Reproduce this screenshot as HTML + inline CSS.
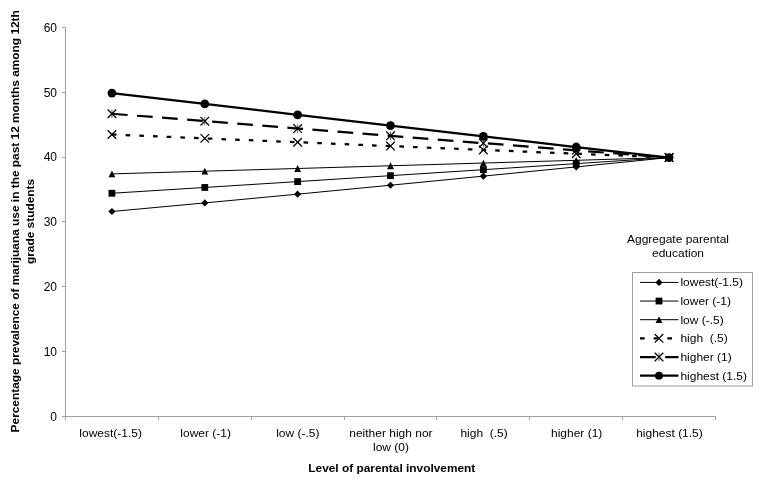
<!DOCTYPE html><html><head><meta charset="utf-8"><style>html,body{margin:0;padding:0;background:#fff;}svg{display:block;will-change:transform;}text{font-family:"Liberation Sans", sans-serif;}</style></head><body>
<svg width="764" height="486" viewBox="0 0 764 486">
<rect width="764" height="486" fill="#fff"/>
<path d="M65.5 27.5V416.5H715.5M62.0 416.50H65.5M62.0 351.50H65.5M62.0 286.50H65.5M62.0 221.50H65.5M62.0 157.50H65.5M62.0 92.50H65.5M62.0 27.50H65.5M65.50 416.5V420.0M158.50 416.5V420.0M251.50 416.5V420.0M344.50 416.5V420.0M436.50 416.5V420.0M529.50 416.5V420.0M622.50 416.5V420.0M715.50 416.5V420.0" stroke="#a0a0a0" stroke-width="1" fill="none"/>
<text x="57" y="420.80" font-size="12" text-anchor="end" fill="#000">0</text>
<text x="57" y="355.97" font-size="12" text-anchor="end" fill="#000">10</text>
<text x="57" y="291.13" font-size="12" text-anchor="end" fill="#000">20</text>
<text x="57" y="226.30" font-size="12" text-anchor="end" fill="#000">30</text>
<text x="57" y="161.47" font-size="12" text-anchor="end" fill="#000">40</text>
<text x="57" y="96.63" font-size="12" text-anchor="end" fill="#000">50</text>
<text x="57" y="31.80" font-size="12" text-anchor="end" fill="#000">60</text>
<text transform="translate(110.63 436.80) scale(1.09 1)" font-size="11.0" text-anchor="middle" fill="#000" xml:space="preserve">lowest(-1.5)</text>
<text transform="translate(205.64 436.80) scale(1.09 1)" font-size="11.0" text-anchor="middle" fill="#000" xml:space="preserve">lower (-1)</text>
<text transform="translate(297.84 436.80) scale(1.09 1)" font-size="11.0" text-anchor="middle" fill="#000" xml:space="preserve">low (-.5)</text>
<text transform="translate(390.90 436.80) scale(1.09 1)" font-size="11.0" text-anchor="middle" fill="#000" xml:space="preserve">neither high nor</text>
<text transform="translate(391.00 451.20) scale(1.09 1)" font-size="11.0" text-anchor="middle" fill="#000" xml:space="preserve">low (0)</text>
<text transform="translate(484.06 436.80) scale(1.09 1)" font-size="11.0" text-anchor="middle" fill="#000" xml:space="preserve">high  (.5)</text>
<text transform="translate(576.66 436.80) scale(1.09 1)" font-size="11.0" text-anchor="middle" fill="#000" xml:space="preserve">higher (1)</text>
<text transform="translate(669.47 436.80) scale(1.09 1)" font-size="11.0" text-anchor="middle" fill="#000" xml:space="preserve">highest (1.5)</text>
<text transform="translate(391.80 472.10) scale(1.082 1)" font-size="11.0" text-anchor="middle" font-weight="bold" fill="#000" xml:space="preserve">Level of parental involvement</text>
<text transform="translate(19.4 221.3) rotate(-90) scale(1.0804 1)" font-size="11" font-weight="bold" text-anchor="middle" fill="#000">Percentage prevalence of marijuana use in the past 12 months among 12th</text>
<text transform="translate(34.0 221.5) rotate(-90) scale(1.0804 1)" font-size="11" font-weight="bold" text-anchor="middle" fill="#000">grade students</text>
<polyline points="111.93,211.50 204.79,202.92 297.64,194.16 390.50,185.23 483.36,176.14 576.21,166.91 669.07,157.55" stroke="#000" stroke-width="1" fill="none"/>
<path d="M111.93 207.90L115.53 211.50L111.93 215.10L108.33 211.50Z" fill="#000"/>
<path d="M204.79 199.32L208.39 202.92L204.79 206.52L201.19 202.92Z" fill="#000"/>
<path d="M297.64 190.56L301.24 194.16L297.64 197.76L294.04 194.16Z" fill="#000"/>
<path d="M390.50 181.63L394.10 185.23L390.50 188.83L386.90 185.23Z" fill="#000"/>
<path d="M483.36 172.54L486.96 176.14L483.36 179.74L479.76 176.14Z" fill="#000"/>
<path d="M576.21 163.31L579.81 166.91L576.21 170.51L572.61 166.91Z" fill="#000"/>
<path d="M669.07 153.95L672.67 157.55L669.07 161.15L665.47 157.55Z" fill="#000"/>
<polyline points="111.93,193.25 204.79,187.46 297.64,181.60 390.50,175.67 483.36,169.69 576.21,163.64 669.07,157.55" stroke="#000" stroke-width="1" fill="none"/>
<rect x="108.53" y="189.85" width="6.80" height="6.80" fill="#000"/>
<rect x="201.39" y="184.06" width="6.80" height="6.80" fill="#000"/>
<rect x="294.24" y="178.20" width="6.80" height="6.80" fill="#000"/>
<rect x="387.10" y="172.27" width="6.80" height="6.80" fill="#000"/>
<rect x="479.96" y="166.29" width="6.80" height="6.80" fill="#000"/>
<rect x="572.81" y="160.24" width="6.80" height="6.80" fill="#000"/>
<rect x="665.67" y="154.15" width="6.80" height="6.80" fill="#000"/>
<polyline points="111.93,173.90 204.79,171.20 297.64,168.49 390.50,165.77 483.36,163.04 576.21,160.30 669.07,157.55" stroke="#000" stroke-width="1" fill="none"/>
<path d="M111.93 170.50L115.33 177.30L108.53 177.30Z" fill="#000"/>
<path d="M204.79 167.80L208.19 174.60L201.39 174.60Z" fill="#000"/>
<path d="M297.64 165.09L301.04 171.89L294.24 171.89Z" fill="#000"/>
<path d="M390.50 162.37L393.90 169.17L387.10 169.17Z" fill="#000"/>
<path d="M483.36 159.64L486.76 166.44L479.96 166.44Z" fill="#000"/>
<path d="M576.21 156.90L579.61 163.70L572.81 163.70Z" fill="#000"/>
<path d="M669.07 154.15L672.47 160.95L665.67 160.95Z" fill="#000"/>
<polyline points="111.93,134.50 204.79,138.38 297.64,142.24 390.50,146.09 483.36,149.93 576.21,153.75 669.07,157.55" stroke="#000" stroke-width="2.25" fill="none" stroke-dasharray="4.6 9.1"/>
<path d="M107.63 130.20L116.23 138.80M116.23 130.20L107.63 138.80" stroke="#000" stroke-width="1.25" fill="none"/>
<path d="M200.49 134.08L209.09 142.68M209.09 134.08L200.49 142.68" stroke="#000" stroke-width="1.25" fill="none"/>
<path d="M293.34 137.94L301.94 146.54M301.94 137.94L293.34 146.54" stroke="#000" stroke-width="1.25" fill="none"/>
<path d="M386.20 141.79L394.80 150.39M394.80 141.79L386.20 150.39" stroke="#000" stroke-width="1.25" fill="none"/>
<path d="M479.06 145.63L487.66 154.23M487.66 145.63L479.06 154.23" stroke="#000" stroke-width="1.25" fill="none"/>
<path d="M571.91 149.45L580.51 158.05M580.51 149.45L571.91 158.05" stroke="#000" stroke-width="1.25" fill="none"/>
<path d="M664.77 153.25L673.37 161.85M673.37 153.25L664.77 161.85" stroke="#000" stroke-width="1.25" fill="none"/>
<polyline points="111.93,113.75 204.79,121.15 297.64,128.52 390.50,135.85 483.36,143.14 576.21,150.37 669.07,157.55" stroke="#000" stroke-width="2.25" fill="none" stroke-dasharray="15.72 9.42"/>
<path d="M107.63 109.45L116.23 118.05M116.23 109.45L107.63 118.05" stroke="#000" stroke-width="1.25" fill="none"/><path d="M111.93 109.45L111.93 118.05" stroke="#000" stroke-width="0.6" fill="none"/>
<path d="M200.49 116.85L209.09 125.45M209.09 116.85L200.49 125.45" stroke="#000" stroke-width="1.25" fill="none"/><path d="M204.79 116.85L204.79 125.45" stroke="#000" stroke-width="0.6" fill="none"/>
<path d="M293.34 124.22L301.94 132.82M301.94 124.22L293.34 132.82" stroke="#000" stroke-width="1.25" fill="none"/><path d="M297.64 124.22L297.64 132.82" stroke="#000" stroke-width="0.6" fill="none"/>
<path d="M386.20 131.55L394.80 140.15M394.80 131.55L386.20 140.15" stroke="#000" stroke-width="1.25" fill="none"/><path d="M390.50 131.55L390.50 140.15" stroke="#000" stroke-width="0.6" fill="none"/>
<path d="M479.06 138.84L487.66 147.44M487.66 138.84L479.06 147.44" stroke="#000" stroke-width="1.25" fill="none"/><path d="M483.36 138.84L483.36 147.44" stroke="#000" stroke-width="0.6" fill="none"/>
<path d="M571.91 146.07L580.51 154.67M580.51 146.07L571.91 154.67" stroke="#000" stroke-width="1.25" fill="none"/><path d="M576.21 146.07L576.21 154.67" stroke="#000" stroke-width="0.6" fill="none"/>
<path d="M664.77 153.25L673.37 161.85M673.37 153.25L664.77 161.85" stroke="#000" stroke-width="1.25" fill="none"/><path d="M669.07 153.25L669.07 161.85" stroke="#000" stroke-width="0.6" fill="none"/>
<polyline points="111.93,93.05 204.79,103.95 297.64,114.81 390.50,125.63 483.36,136.38 576.21,147.02 669.07,157.55" stroke="#000" stroke-width="2.25" fill="none"/>
<circle cx="111.93" cy="93.05" r="4.4" fill="#000"/>
<circle cx="204.79" cy="103.95" r="4.4" fill="#000"/>
<circle cx="297.64" cy="114.81" r="4.4" fill="#000"/>
<circle cx="390.50" cy="125.63" r="4.4" fill="#000"/>
<circle cx="483.36" cy="136.38" r="4.4" fill="#000"/>
<circle cx="576.21" cy="147.02" r="4.4" fill="#000"/>
<circle cx="669.07" cy="157.55" r="4.4" fill="#000"/>
<text transform="translate(678.00 242.90) scale(1.09 1)" font-size="11.0" text-anchor="middle" fill="#000" xml:space="preserve">Aggregate parental</text>
<text transform="translate(678.00 257.10) scale(1.09 1)" font-size="11.0" text-anchor="middle" fill="#000" xml:space="preserve">education</text>
<rect x="632.5" y="272.5" width="120" height="113.5" fill="#fff" stroke="#a0a0a0" stroke-width="1"/>
<path d="M640 282.40H678.5" stroke="#000" stroke-width="1" fill="none"/>
<path d="M659.00 278.80L662.60 282.40L659.00 286.00L655.40 282.40Z" fill="#000"/>
<text transform="translate(680.40 286.30) scale(1.09 1)" font-size="11.0" fill="#000" xml:space="preserve">lowest(-1.5)</text>
<path d="M640 301.05H678.5" stroke="#000" stroke-width="1" fill="none"/>
<rect x="655.60" y="297.65" width="6.80" height="6.80" fill="#000"/>
<text transform="translate(680.40 304.95) scale(1.09 1)" font-size="11.0" fill="#000" xml:space="preserve">lower (-1)</text>
<path d="M640 319.70H678.5" stroke="#000" stroke-width="1" fill="none"/>
<path d="M659.00 316.30L662.40 323.10L655.60 323.10Z" fill="#000"/>
<text transform="translate(680.40 323.60) scale(1.09 1)" font-size="11.0" fill="#000" xml:space="preserve">low (-.5)</text>
<path d="M640 338.35H678.5" stroke="#000" stroke-width="2.25" fill="none" stroke-dasharray="4.6 9.1"/>
<path d="M654.70 334.05L663.30 342.65M663.30 334.05L654.70 342.65" stroke="#000" stroke-width="1.25" fill="none"/>
<text transform="translate(680.40 342.25) scale(1.09 1)" font-size="11.0" fill="#000" xml:space="preserve">high  (.5)</text>
<path d="M640 357.00H678.5" stroke="#000" stroke-width="2.25" fill="none" stroke-dasharray="15.72 9.42"/>
<path d="M654.70 352.70L663.30 361.30M663.30 352.70L654.70 361.30" stroke="#000" stroke-width="1.25" fill="none"/><path d="M659.00 352.70L659.00 361.30" stroke="#000" stroke-width="0.6" fill="none"/>
<text transform="translate(680.40 360.90) scale(1.09 1)" font-size="11.0" fill="#000" xml:space="preserve">higher (1)</text>
<path d="M640 375.65H678.5" stroke="#000" stroke-width="2.25" fill="none"/>
<circle cx="659.00" cy="375.65" r="3.95" fill="#000"/>
<text transform="translate(680.40 379.55) scale(1.09 1)" font-size="11.0" fill="#000" xml:space="preserve">highest (1.5)</text>
</svg></body></html>
